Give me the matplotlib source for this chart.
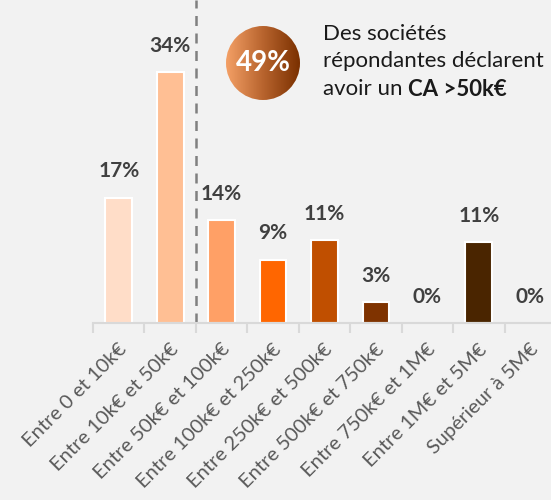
import numpy as np
import matplotlib.pyplot as plt
from matplotlib.patches import Circle
from matplotlib.colors import LinearSegmentedColormap

categories = ["Entre 0 et 10k€", "Entre 10k€ et 50k€", "Entre 50k€ et 100k€",
              "Entre 100k€ et 250k€", "Entre 250k€ et 500k€", "Entre 500k€ et 750k€",
              "Entre 750k€ et 1M€", "Entre 1M€ et 5M€", "Supérieur à 5M€"]
values = [17, 34, 14, 8.6, 11.2, 2.8, 0, 11, 0]
colors = ["#FFDDC8", "#FFBF94", "#FFA066", "#FF6600", "#C04F00",
          "#7F3300", "#7F3300", "#4A2500", "#4A2500"]
share_above = 49

plt.rcParams['font.family'] = ['Lato', 'DejaVu Sans']
bg = "#F2F2F2"

fig = plt.figure(figsize=(5.51, 5.0), dpi=100, facecolor=bg)
ax = fig.add_axes([93 / 551, 177 / 500, 463 / 551, 323 / 500])
ax.set_facecolor(bg)

x = np.arange(len(categories))
ax.bar(x, values, width=0.52, color=colors, edgecolor="white", linewidth=1.5, zorder=2)
for xi, v in zip(x, values):
    ax.text(xi, v + 2.2, f"{v:.0f}%", ha="center", va="bottom",
            fontsize=15, fontweight="bold", color="#404040")

ax.set_xlim(-0.5, 8.5)
ax.set_ylim(0, 43.8)
ax.axvline(1.5, color="#808080", linestyle=(0, (4, 3)), linewidth=1.8, zorder=1)

for s in ["top", "right", "left"]:
    ax.spines[s].set_visible(False)
ax.spines["bottom"].set_color("#D9D9D9")
ax.spines["bottom"].set_linewidth(1.5)
ax.set_yticks([])
ax.set_xticks(np.arange(-0.5, 9, 1))
ax.set_xticklabels([])
ax.tick_params(axis="x", length=7, width=1.5, color="#D9D9D9")
for xi, lab in zip(x, categories):
    ax.text(xi + 0.1, -3.2, lab, rotation=45, rotation_mode="anchor",
            ha="right", va="center", fontsize=14.5, color="#595959")

# gradient circle
cx, cy, r = 263, 437, 37
cax = fig.add_axes([0, 0, 1, 1], facecolor="none")
cax.set_xlim(0, 551)
cax.set_ylim(0, 500)
cax.axis("off")
grad = np.linspace(0, 1, 256).reshape(1, -1)
cmap = LinearSegmentedColormap.from_list("g", ["#F4A066", "#B8642E", "#7A3000"])
im = cax.imshow(grad, cmap=cmap, extent=[cx - r, cx + r, cy - r, cy + r], aspect="auto")
im.set_clip_path(Circle((cx, cy), r, transform=cax.transData))
cax.text(cx, cy, f"{share_above}%", ha="center", va="center", fontsize=20,
         fontweight="bold", color="white")

cax.text(323, 466, "Des sociétés", fontsize=16, color="#1A1A1A", va="center")
cax.text(323, 439, "répondantes déclarent", fontsize=16, color="#1A1A1A", va="center")
t = cax.text(323, 411, "avoir un ", fontsize=16, color="#1A1A1A", va="center")
cax.annotate("CA >50k€", xy=(1, 0.5), xycoords=t, fontsize=16, color="#1A1A1A",
             va="center", fontweight="bold")

fig.savefig("out.png", dpi=100, facecolor=bg)
